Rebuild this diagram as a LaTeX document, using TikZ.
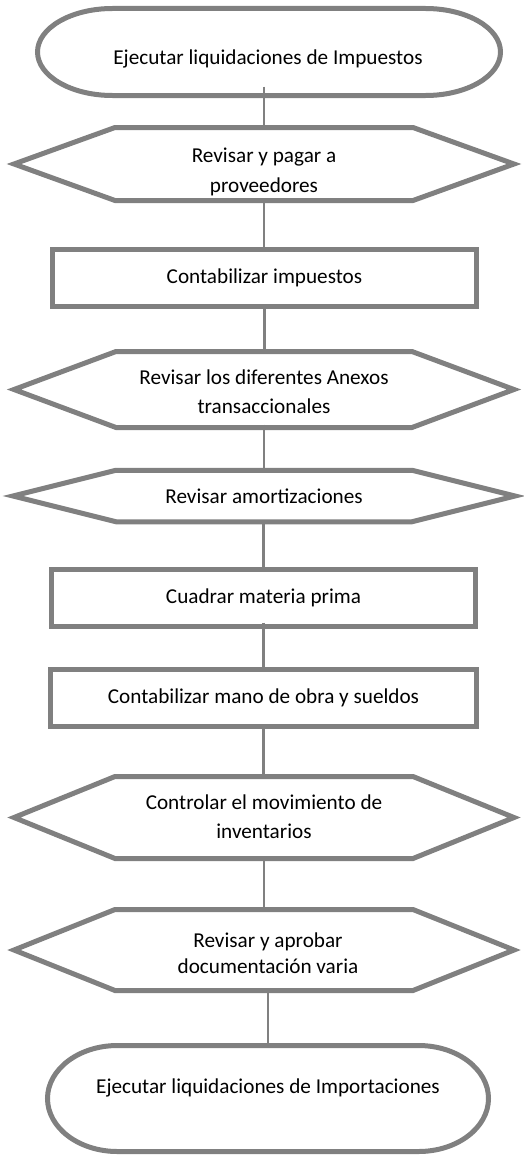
\documentclass[tikz,border=0pt]{standalone}
\usepackage{fontspec}
\setmainfont{Carlito}
\usetikzlibrary{calc}
\definecolor{brd}{HTML}{808080}
\newcommand\hexborder[2]{%
  \draw[shp] ([xshift=#2]#1.north west) -- ([xshift=-#2]#1.north east) -- (#1.east)
    -- ([xshift=-#2]#1.south east) -- ([xshift=#2]#1.south west) -- (#1.west) -- cycle;}
\newcommand\termborder[3]{% name, x radius, y radius
  \draw[shp] ([xshift=#2]#1.north west) -- ([xshift=-#2]#1.north east)
    arc[start angle=90, end angle=-90, x radius=#2, y radius=#3]
    -- ([xshift=#2]#1.south west)
    arc[start angle=270, end angle=90, x radius=#2, y radius=#3] -- cycle;}
\begin{document}
\begin{tikzpicture}[x=1pt,y=-1pt,
  shp/.style={draw=brd, line width=5pt, line join=miter},
  lnk/.style={draw=brd, line width=2.4pt},
  area/.style={inner sep=0pt, outer sep=0pt, minimum width=#1},
  procbox/.style={draw=brd, line width=5pt, inner sep=0pt, outer sep=0pt, minimum width=#1},
  txt/.style={font=\fontsize{21.2pt}{26pt}\selectfont, align=center, inner sep=0pt, anchor=base},
  txtb/.style={font=\fontsize{21.2pt}{#1}\selectfont, align=center, inner sep=0pt, anchor=base}]
\useasboundingbox (0,0) rectangle (523,1156);

% shapes (areas)
\node[area=463pt, minimum height=87pt] (s1) at (269,52) {};
\node[area=500pt, minimum height=73pt] (h1) at (264,164) {};
\node[procbox=424pt, minimum height=56.5pt] (r1) at (264.5,278) {};
\node[area=500pt, minimum height=76pt] (h2) at (264,389.5) {};
\node[area=502pt, minimum height=51.5pt] (h3) at (264,496) {};
\node[procbox=424pt, minimum height=57pt] (r2) at (263.5,598) {};
\node[procbox=426pt, minimum height=57pt] (r3) at (263.5,698) {};
\node[area=500pt, minimum height=82pt] (h4) at (264,817.5) {};
\node[area=500pt, minimum height=81pt] (h5) at (264,950) {};
\node[area=441pt, minimum height=106pt] (s2) at (268,1098.5) {};

% connectors
\draw[lnk] ([yshift=9pt]s1.south -| h1.north) -- (h1.north);
\draw[lnk] (h1.south) -- (h1.south |- r1.north);
\draw[lnk] (r1.south) -- (r1.south |- h2.north);
\draw[lnk] ([yshift=3pt]h2.south) -- (h2.south |- h3.north);
\draw[lnk] (h3.south -| r2.north) -- (r2.north);
\draw[lnk] ([yshift=4pt]r2.south) -- (r2.south |- r3.north);
\draw[lnk] (r3.south) -- (r3.south |- h4.north);
\draw[lnk] (h4.south) -- (h4.south |- h5.north);
\draw[lnk] (h5.south -| s2.north) -- (s2.north);

% borders
\termborder{s1}{75pt}{43.5pt}
\hexborder{h1}{101pt}
\hexborder{h2}{102pt}
\hexborder{h3}{103pt}
\hexborder{h4}{101pt}
\hexborder{h5}{101pt}
\termborder{s2}{70pt}{53pt}

% texts (base anchor = baseline of the last line)
\node[txt] (t1) at (268,65) {Ejecutar liquidaciones de Impuestos};
\node[txtb=30pt] (t2) at (264,192) {Revisar y pagar a\\proveedores};
\node[txt] (t3) at (264.5,283) {Contabilizar impuestos};
\node[txtb=29pt] (t4) at (264,413) {Revisar los diferentes Anexos\\transaccionales};
\node[txt] (t5) at (264,503) {Revisar amortizaciones};
\node[txt] (t6) at (263.5,603) {Cuadrar materia prima};
\node[txt] (t7) at (263.5,703) {Contabilizar mano de obra y sueldos};
\node[txtb=29pt] (t8) at (264,838) {Controlar el movimiento de\\inventarios};
\node[txtb=26pt] (t9) at (268,973) {Revisar y aprobar\\documentación varia};
\node[txt] (t10) at (268,1093) {Ejecutar liquidaciones de Importaciones};
\end{tikzpicture}
\end{document}
